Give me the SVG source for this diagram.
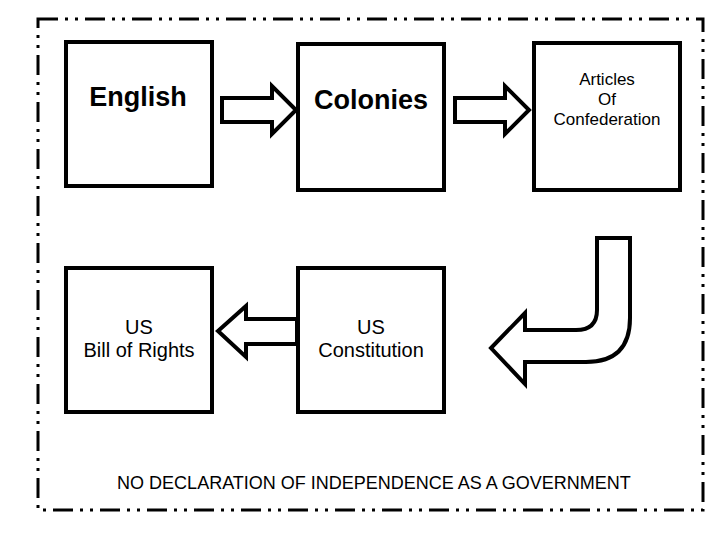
<svg xmlns="http://www.w3.org/2000/svg" width="720" height="540" viewBox="0 0 720 540">
<style>
.box{fill:#fff;stroke:#000;stroke-width:4}
.arr{fill:#fff;stroke:#000;stroke-width:4;stroke-linejoin:miter}
text{font-family:"Liberation Sans",Arial,sans-serif;fill:#000;text-anchor:middle}
.b{font-size:27px;font-weight:bold}
.s{font-size:17px}
.m{font-size:20px}
</style>
<rect width="720" height="540" fill="#fff"/>
<rect x="38" y="19" width="665" height="491" fill="none" stroke="#000" stroke-width="3" stroke-dasharray="20 7 3 7 3 7"/>
<g id="english"><rect class="box" x="66" y="42" width="146" height="144"/><text class="b" x="138" y="106">English</text></g>
<g id="colonies"><rect class="box" x="298" y="44" width="146" height="146"/><text class="b" x="371" y="109">Colonies</text></g>
<g id="articles"><rect class="box" x="534" y="43" width="146" height="147"/><text class="s" x="607" y="85">Articles</text><text class="s" x="607" y="105">Of</text><text class="s" x="607" y="125">Confederation</text></g>
<g id="bill"><rect class="box" x="66" y="268" width="146" height="144"/><text class="m" x="139" y="334">US</text><text class="m" x="139" y="357">Bill of Rights</text></g>
<g id="constitution"><rect class="box" x="298" y="268" width="146" height="144"/><text class="m" x="371" y="334">US</text><text class="m" x="371" y="357">Constitution</text></g>
<g id="connectors">
<polygon class="arr" points="222,98 272,98 272,86 296,110 272,134 272,122 222,122"/>
<polygon class="arr" points="455,98 505,98 505,86 529,110 505,134 505,122 455,122"/>
<polygon class="arr" points="297,319 246,319 246,306 218,331 246,357 246,344 297,344"/>
<path class="arr" d="M597,238 L630,238 L630,318 Q630,362 586,362 L525,362 L525,384 L491,348 L525,313 L525,330 L576,330 Q597,330 597,310 Z"/>
</g>
<text x="374" y="489" font-size="18">NO DECLARATION OF INDEPENDENCE AS A GOVERNMENT</text>
</svg>
